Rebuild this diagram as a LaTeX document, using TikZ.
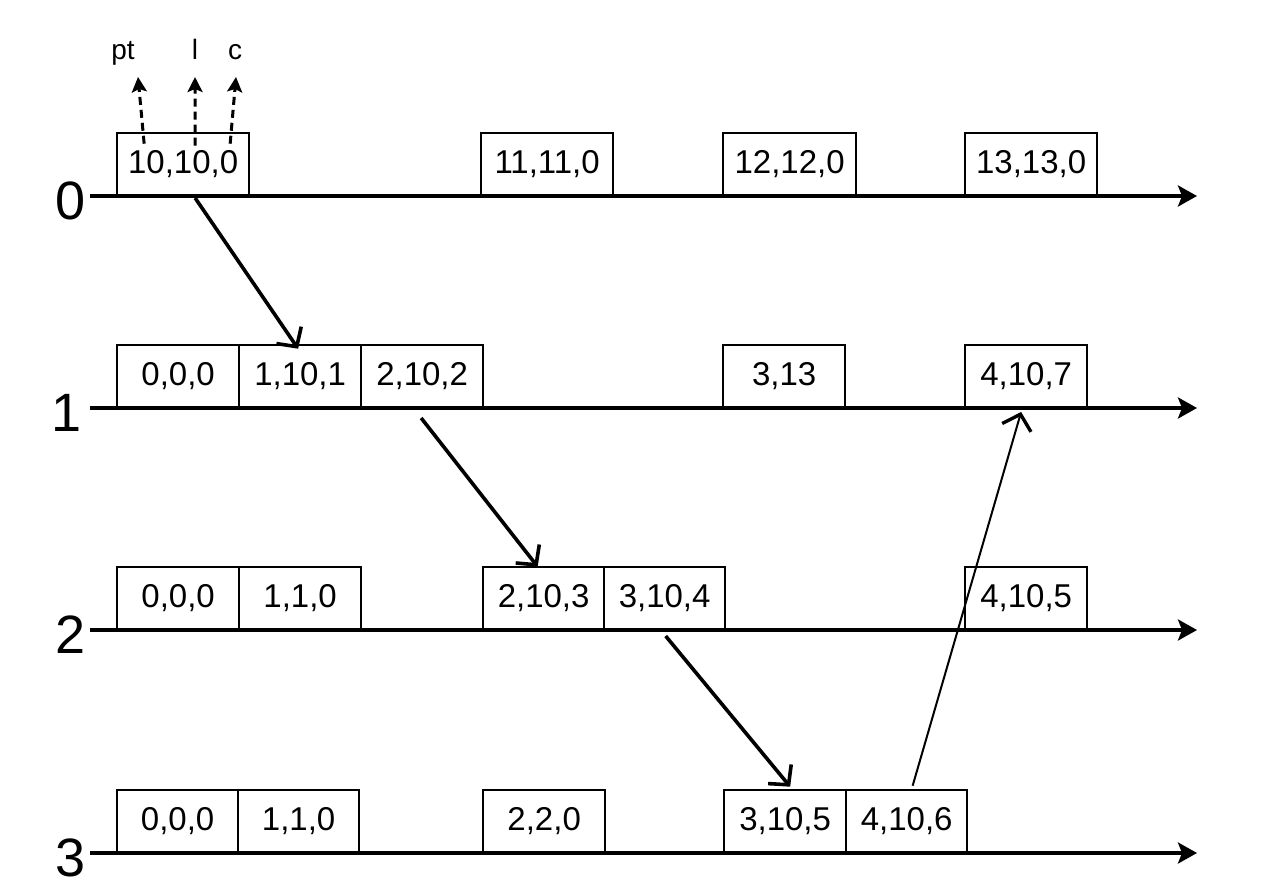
\documentclass[tikz,border=0pt]{standalone}
\usepackage{fontspec}
\setmainfont{Liberation Sans}
\usetikzlibrary{arrows.meta}
\begin{document}
\begin{tikzpicture}[x=1pt,y=-1pt,
  cell/.style={draw, line width=2.3pt, minimum height=62pt, minimum width=122pt, inner sep=0pt, anchor=south west, font=\fontsize{33}{33}\selectfont},
  wide/.style={minimum width=132pt},
  timeline/.style={line width=3.4pt, -{Stealth[length=19pt,width=21pt,inset=4pt]}},
  msg/.style={line width=3.6pt, -{Straight Barb[length=14pt,width=30pt,line width=3.6pt]}},
  thinmsg/.style={line width=2pt, -{Straight Barb[length=14pt,width=30pt,line width=3.4pt]}},
  ptr/.style={line width=3pt, dash pattern=on 8pt off 5pt, -{Stealth[length=15pt,width=15pt,inset=3pt]}},
  rowlbl/.style={font=\fontsize{54}{54}\selectfont, anchor=east, inner sep=0pt},
  fld/.style={font=\fontsize{28}{28}\selectfont, inner sep=0pt, anchor=base}]
\useasboundingbox (0,0) rectangle (1270,894);

% timelines
\coordinate (s0) at (90,196);  \coordinate (e0) at (1197,196);
\coordinate (s1) at (90,408);  \coordinate (e1) at (1197,408);
\coordinate (s2) at (90,630);  \coordinate (e2) at (1197,630);
\coordinate (s3) at (90,853);  \coordinate (e3) at (1197,853);
\node[rowlbl] (r0) at (86,201) {0};
\node[rowlbl] (r1) at (82,413) {1};
\node[rowlbl] (r2) at (86,635) {2};
\node[rowlbl] (r3) at (86,858) {3};
\draw[timeline] (s0) -- (e0);
\draw[timeline] (s1) -- (e1);
\draw[timeline] (s2) -- (e2);
\draw[timeline] (s3) -- (e3);

% row 0
\node[cell,wide] (b00) at (116,196) {10,10,0};
\node[cell,wide] (b01) at (480,196) {11,11,0};
\node[cell,wide,minimum width=133pt] (b02) at (722,196) {12,12,0};
\node[cell,wide] (b03) at (964,196) {13,13,0};
% row 1
\node[cell] (b10) at (116,408) {0,0,0};
\node[cell] (b11) at (238,408) {1,10,1};
\node[cell] (b12) at (360,408) {2,10,2};
\node[cell] (b13) at (722,408) {3,13};
\node[cell] (b14) at (964,408) {4,10,7};
% row 2
\node[cell] (b20) at (116,630) {0,0,0};
\node[cell] (b21) at (238,630) {1,1,0};
\node[cell,minimum width=121pt] (b22) at (482,630) {2,10,3};
\node[cell,minimum width=121pt] (b23) at (603,630) {3,10,4};
\node[cell] (b24) at (964,630) {4,10,5};
% row 3
\node[cell,minimum width=121pt] (b30) at (116,853) {0,0,0};
\node[cell,minimum width=121pt] (b31) at (237,853) {1,1,0};
\node[cell] (b32) at (482,853) {2,2,0};
\node[cell] (b33) at (723,853) {3,10,5};
\node[cell,minimum width=121pt] (b34) at (845,853) {4,10,6};

% field labels
\node[fld] (fpt) at (123,59) {pt};
\node[fld] (fl) at (195,59) {l};
\node[fld] (fc) at (235,59) {c};
\draw[ptr] ([xshift=-39pt,yshift=-12pt]b00.north) -- ([xshift=15pt,yshift=-18pt]fpt.base);
\draw[ptr] ([xshift=12pt,yshift=-14pt]b00.north) -- ([yshift=-18pt]fl.base);
\draw[ptr] ([xshift=47pt,yshift=-12pt]b00.north) -- ([xshift=1pt,yshift=-18pt]fc.base);

% messages
\draw[msg] ([xshift=12pt,yshift=-2pt]b00.south) -- ([xshift=-2pt,yshift=-5pt]b11.north);
\draw[msg] ([xshift=-1pt,yshift=-10pt]b12.south) -- ([xshift=-6pt,yshift=-1pt]b22.north);
\draw[msg] ([xshift=1pt,yshift=-6pt]b23.south) -- ([xshift=5pt,yshift=2pt]b33.north);
\draw[thinmsg] ([xshift=6pt,yshift=3pt]b34.north) -- ([xshift=-5pt,yshift=-4pt]b14.south);
\end{tikzpicture}
\end{document}
